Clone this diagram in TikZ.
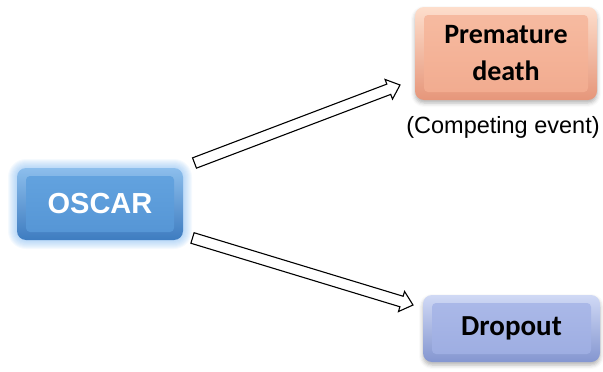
\documentclass[tikz,border=0pt]{standalone}
\usepackage{fontspec}
\setmainfont{Liberation Sans}
\newfontfamily\calib{Carlito}
\usetikzlibrary{calc,backgrounds,shadows.blur}
\definecolor{oscTop}{RGB}{140,190,236}
\definecolor{oscBot}{RGB}{62,124,192}
\definecolor{oscMidA}{RGB}{100,164,224}
\definecolor{oscMidB}{RGB}{84,148,212}
\definecolor{oscGlow}{RGB}{120,180,240}
\definecolor{pdTop}{RGB}{253,222,204}
\definecolor{pdBot}{RGB}{230,150,122}
\definecolor{pdMidA}{RGB}{247,188,162}
\definecolor{pdMidB}{RGB}{241,170,142}
\definecolor{drTop}{RGB}{208,217,245}
\definecolor{drBot}{RGB}{132,150,208}
\definecolor{drMidA}{RGB}{172,186,233}
\definecolor{drMidB}{RGB}{156,172,225}
\tikzset{
  box/.style={rounded corners=9pt, inner sep=0pt, draw=none, align=center},
  bevel/.style 2 args={path picture={\shade[top color=#1, bottom color=#2, rounded corners=4pt]
     ([xshift=9pt,yshift=-8pt]path picture bounding box.north west) rectangle
     ([xshift=-9pt,yshift=8pt]path picture bounding box.south east);}},
  softshadow/.style={blur shadow={shadow xshift=0pt, shadow yshift=-3pt,
     shadow blur radius=4pt, shadow opacity=30}},
  blockarrow/.style={draw=black, line width=1.1pt, fill=white, line join=miter}
}
\newcommand\blkarrow[2]{%
  \coordinate (#1-#2-b) at ($(#2)!12pt!(#1)$);
  \draw[blockarrow] ($(#1)!5.5pt!90:(#2)$) -- ($(#1-#2-b)!5.5pt!-90:(#1)$)
    -- ($(#1-#2-b)!10.5pt!-90:(#1)$) -- (#2)
    -- ($(#1-#2-b)!10.5pt!90:(#1)$) -- ($(#1-#2-b)!5.5pt!90:(#1)$)
    -- ($(#1)!5.5pt!-90:(#2)$) -- cycle;}
\begin{document}
\begin{tikzpicture}[x=1pt,y=-1pt]
\useasboundingbox (0,0) rectangle (603,372);
% OSCAR glow
\foreach \r in {1,...,9}{
  \fill[oscGlow, opacity=0.07, rounded corners={9pt+\r pt}]
    ({17-\r},{168-\r}) rectangle ({183+\r},{240+\r});
}
\node[box, minimum width=166pt, minimum height=72pt,
      top color=oscTop, bottom color=oscBot, bevel={oscMidA}{oscMidB},
      font=\bfseries\fontsize{29}{34}\selectfont, text=white]
  (osc) at (100,204) {OSCAR};
\node[box, softshadow, minimum width=182pt, minimum height=93pt,
      top color=pdTop, bottom color=pdBot, bevel={pdMidA}{pdMidB},
      font=\calib\bfseries\fontsize{28}{37}\selectfont, text=black]
  (pd) at (506,53.5) {Premature\\death};
\node[font=\fontsize{23.5}{28}\selectfont, inner sep=0pt]
  (ce) at (503,127) {(Competing event)};
\node[box, softshadow, minimum width=177pt, minimum height=67pt,
      top color=drTop, bottom color=drBot, bevel={drMidA}{drMidB},
      font=\calib\bfseries\fontsize{29}{34}\selectfont, text=black]
  (drop) at (511.5,328.5) {Dropout};
% arrows
\coordinate (t1) at (194.5,163);
\coordinate (h1) at (400,85);
\coordinate (t2) at (192.5,238);
\coordinate (h2) at (413,305);
\blkarrow{t1}{h1}
\blkarrow{t2}{h2}
\end{tikzpicture}
\end{document}
